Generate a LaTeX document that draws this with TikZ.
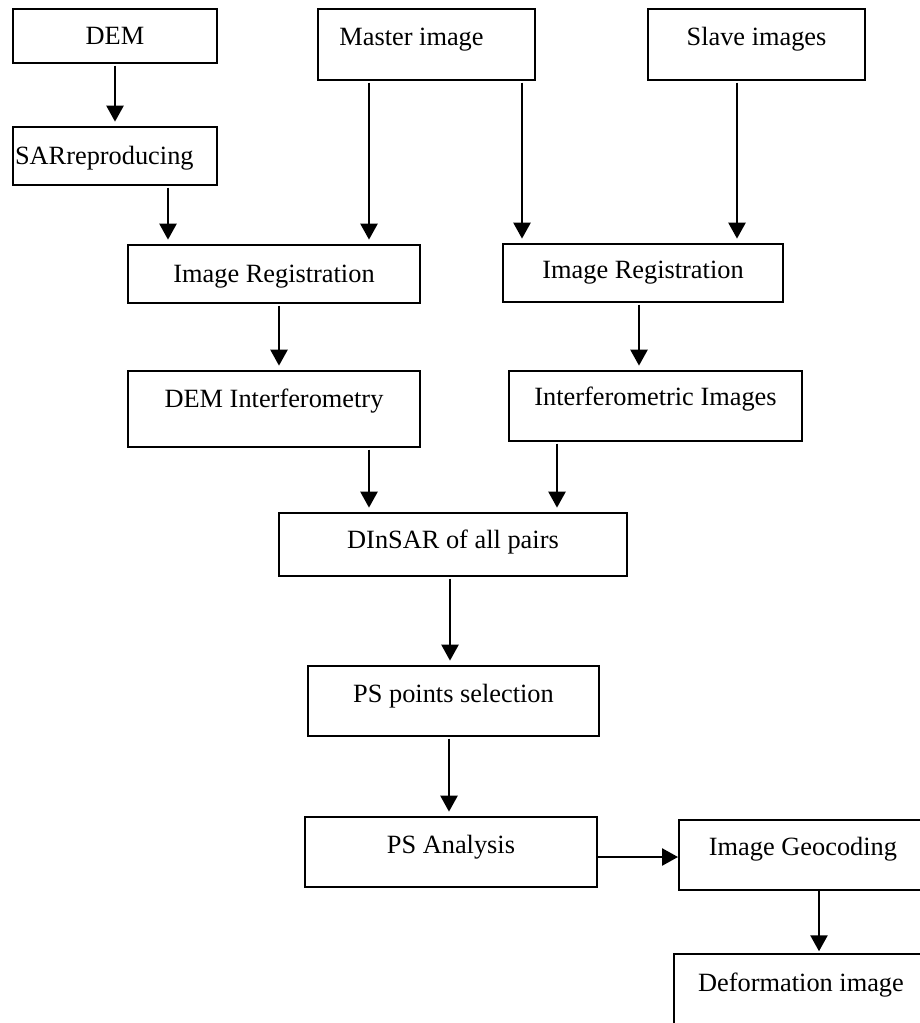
\documentclass[tikz,border=0pt]{standalone}
\usepackage{fontspec}
\setmainfont{Liberation Serif}
\usetikzlibrary{arrows.meta}

\begin{document}
\begin{tikzpicture}[
  font=\fontsize{15}{18}\selectfont,
  box/.style={draw, line width=1.1pt, inner sep=0pt, text height=0.37cm, text depth=0.02cm},
  txtup/.style={text depth=#1},
  ar/.style={-{Triangle[length=0.32cm,width=0.34cm]}, line width=1.4pt, shorten <=1pt, shorten >=2.5pt},
]
\useasboundingbox (0,0) rectangle (18.38,-20.46);
% inputs
\node[box, minimum width=4.08cm, minimum height=1.08cm] (dem) at (2.30,-0.72) {DEM};
\node[box, minimum width=4.08cm, minimum height=1.16cm, text width=4.0cm, align=left, inner xsep=0.04cm] (sar) at (2.30,-3.12) {SARreproducing};
\node[box, txtup=0.32cm, minimum width=4.34cm, minimum height=1.42cm] (master) at (8.53,-0.89) {Master image\hspace*{0.6cm}};
\node[box, txtup=0.32cm, minimum width=4.34cm, minimum height=1.42cm] (slave) at (15.13,-0.89) {Slave images};
% registration
\node[box, minimum width=5.84cm, minimum height=1.16cm] (reg1) at (5.48,-5.48) {Image Registration};
\node[box, txtup=0.14cm, minimum width=5.60cm, minimum height=1.16cm] (reg2) at (12.86,-5.46) {Image Registration};
\node[box, txtup=0.42cm, minimum width=5.84cm, minimum height=1.52cm] (demint) at (5.48,-8.18) {DEM Interferometry};
\node[box, txtup=0.38cm, minimum width=5.86cm, minimum height=1.40cm] (ifg) at (13.11,-8.12) {Interferometric Images};
% PS chain
\node[box, txtup=0.20cm, minimum width=6.96cm, minimum height=1.26cm] (dinsar) at (9.06,-10.89) {DInSAR of all pairs};
\node[box, txtup=0.30cm, minimum width=5.82cm, minimum height=1.40cm] (pssel) at (9.07,-14.02) {PS points selection};
\node[box, txtup=0.30cm, minimum width=5.84cm, minimum height=1.40cm] (psana) at (9.02,-17.04) {PS Analysis};
\node[box, txtup=0.34cm, minimum width=4.96cm, minimum height=1.40cm] (geo) at (16.06,-17.10) {Image Geocoding};
\node[box, txtup=0.26cm, minimum width=5.08cm, minimum height=1.40cm] (defo) at (16.02,-19.78) {Deformation image};

\draw[ar] (dem) -- (sar);
\draw[ar] ([xshift=1.06cm]sar.south) -- ([xshift=1.06cm]sar.south |- reg1.north);
\draw[ar] ([xshift=-1.15cm]master.south) -- ([xshift=-1.15cm]master.south |- reg1.north);
\draw[ar] ([xshift=1.91cm]master.south) -- ([xshift=1.91cm]master.south |- reg2.north);
\draw[ar] ([xshift=-0.39cm]slave.south) -- ([xshift=-0.39cm]slave.south |- reg2.north);
\draw[ar] ([xshift=0.10cm]reg1.south) -- ([xshift=0.10cm]reg1.south |- demint.north);
\draw[ar] ([xshift=-0.08cm]reg2.south) -- ([xshift=-0.08cm]reg2.south |- ifg.north);
\draw[ar] ([xshift=1.90cm]demint.south) -- ([xshift=1.90cm]demint.south |- dinsar.north);
\draw[ar] ([xshift=-1.97cm]ifg.south) -- ([xshift=-1.97cm]ifg.south |- dinsar.north);
\draw[ar] ([xshift=-0.06cm]dinsar.south) -- ([xshift=-0.06cm]dinsar.south |- pssel.north);
\draw[ar] ([xshift=-0.09cm]pssel.south) -- ([xshift=-0.09cm]pssel.south |- psana.north);
\draw[ar, shorten <=0pt, shorten >=0pt] ([yshift=-0.1cm]psana.east) -- ([yshift=-0.1cm]psana.east -| geo.west);
\draw[ar, shorten <=0pt, shorten >=1pt] ([xshift=0.32cm]geo.south) -- ([xshift=0.32cm]geo.south |- defo.north);
\end{tikzpicture}
\end{document}
